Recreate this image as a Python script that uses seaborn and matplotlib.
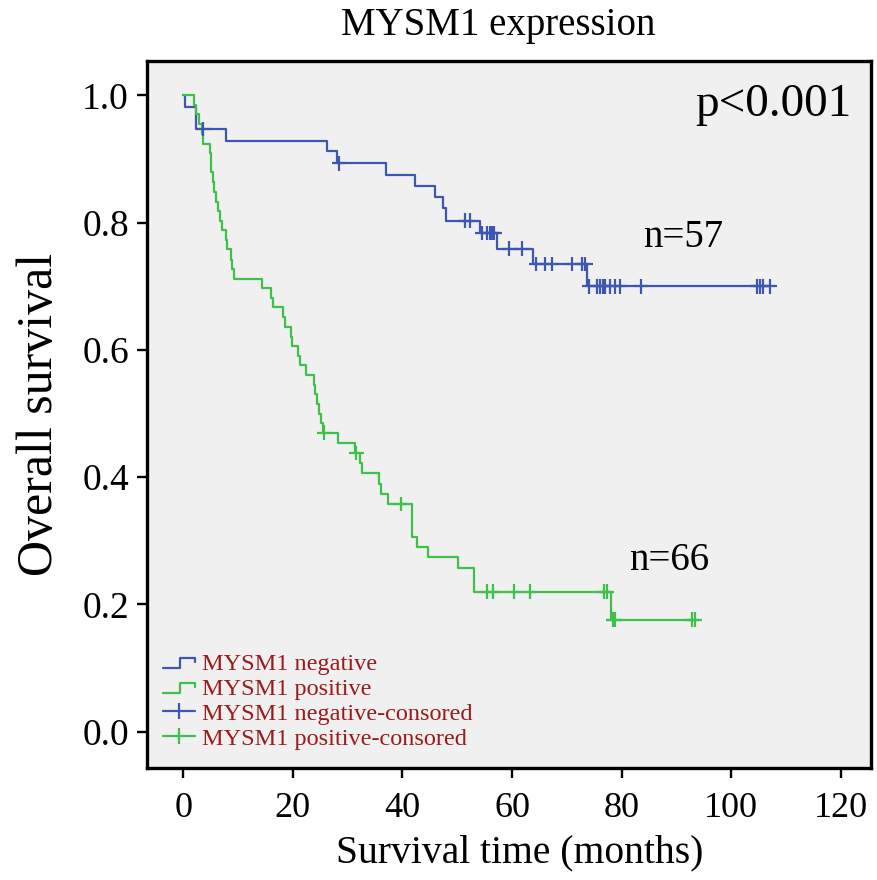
import numpy as np
import pandas as pd
import matplotlib
matplotlib.use("Agg")
import matplotlib.pyplot as plt
import seaborn as sns
from matplotlib.legend_handler import HandlerBase
from matplotlib.lines import Line2D

# ---------------- data ----------------
neg_times = [0, 0.4, 2.4, 7.8, 26.3, 28.1, 37.0, 42.3, 46.0, 47.4, 47.9,
             54.2, 57.2, 63.8, 73.7, 107.1]
neg_surv = [1.0, 0.982, 0.947, 0.929, 0.912, 0.893, 0.875, 0.857, 0.840,
            0.823, 0.803, 0.784, 0.759, 0.735, 0.700, 0.700]
neg_censor = [3.7, 28.4, 51.5, 52.4, 54.6, 55.5, 56.0, 56.4, 56.8, 59.5, 61.9,
              64.4, 66.1, 67.3, 70.9, 72.8, 73.4, 74.1, 75.5, 76.1, 76.6, 77.0,
              77.9, 78.8, 79.7, 83.5, 104.7, 105.3, 105.8, 107.1]

pos_times = [0, 1.9, 2.4, 2.8, 3.5, 3.7, 4.9, 5.0, 5.05, 5.4, 5.7, 6.0, 6.4,
             6.8, 7.1, 7.8, 8.0, 8.7, 8.9, 9.3, 14.4, 16.0, 16.4, 18.2, 18.6,
             19.7, 19.8, 20.9, 21.4, 22.4, 23.9, 24.1, 24.5, 24.8, 25.1, 25.5,
             28.3, 31.3, 32.3, 32.6, 35.8, 36.1, 37.4, 41.7, 42.6, 44.6, 50.2,
             53.0, 78.0, 93.4]
pos_surv = [1.0, 0.985, 0.970, 0.955, 0.939, 0.924, 0.909, 0.894, 0.879,
            0.864, 0.848, 0.833, 0.818, 0.803, 0.788, 0.773, 0.758, 0.742,
            0.727, 0.712, 0.697, 0.682, 0.667, 0.652, 0.636, 0.621, 0.606,
            0.591, 0.576, 0.561, 0.545, 0.530, 0.515, 0.500, 0.485, 0.470,
            0.454, 0.438, 0.422, 0.406, 0.390, 0.373, 0.358, 0.306, 0.291,
            0.274, 0.257, 0.220, 0.176, 0.176]
pos_censor = [25.7, 31.6, 39.7, 55.4, 56.6, 60.3, 63.3, 76.7, 77.3, 78.5,
              78.7, 92.8, 93.4]

group_labels = ["MYSM1 negative", "MYSM1 positive"]
censor_labels = ["MYSM1 negative-consored", "MYSM1 positive-consored"]
n_labels = ["n=57", "n=66"]
p_label = "p<0.001"
x_ticks = [0, 20, 40, 60, 80, 100, 120]
y_ticks = [0.0, 0.2, 0.4, 0.6, 0.8, 1.0]

# ---------------- style ----------------
sns.set_theme(style="ticks")
plt.rcParams["font.family"] = ["Liberation Serif", "DejaVu Serif"]
plt.rcParams["text.color"] = "black"
plt.rcParams["axes.labelcolor"] = "black"

BLUE = "#3D57B0"
GREEN = "#3EC04A"
LEG_TEXT = "#9B1B1B"
LW = 1.6

fig = plt.figure(figsize=(8.77, 8.80), dpi=100)
ax = fig.add_axes([147 / 877, 1 - 768 / 880, 724 / 877, 707 / 880])
ax.set_facecolor("#F0F0F0")


def censor_y(times, surv, cens):
    idx = np.searchsorted(np.asarray(times), np.asarray(cens), side="right") - 1
    return np.asarray(surv)[idx]


curves = pd.concat([
    pd.DataFrame({"t": neg_times, "s": neg_surv, "g": group_labels[0]}),
    pd.DataFrame({"t": pos_times, "s": pos_surv, "g": group_labels[1]}),
])
sns.lineplot(data=curves, x="t", y="s", hue="g",
             palette={group_labels[0]: BLUE, group_labels[1]: GREEN},
             estimator=None, sort=False, drawstyle="steps-post",
             linewidth=LW, legend=False, ax=ax)

cens = pd.concat([
    pd.DataFrame({"t": neg_censor,
                  "s": censor_y(neg_times, neg_surv, neg_censor),
                  "g": censor_labels[0]}),
    pd.DataFrame({"t": pos_censor,
                  "s": censor_y(pos_times, pos_surv, pos_censor),
                  "g": censor_labels[1]}),
])
sns.scatterplot(data=cens, x="t", y="s", hue="g",
                palette={censor_labels[0]: BLUE, censor_labels[1]: GREEN},
                marker="+", s=110, linewidth=1.6, legend=False, ax=ax, zorder=3)

# ---------------- axes ----------------
ax.set_xlim(-6.6, 125.5)
ax.set_ylim(-0.057, 1.054)
ax.set_xticks(x_ticks)
ax.set_xticklabels([str(v) for v in x_ticks])
ax.set_yticks(y_ticks)
ax.set_yticklabels([f"{v:.1f}" for v in y_ticks])
for sp in ax.spines.values():
    sp.set_linewidth(2.4)
    sp.set_color("black")
ax.tick_params(axis="both", direction="out", length=7, width=1.7,
               colors="black")
ax.tick_params(axis="x", pad=10, labelsize=26)
ax.tick_params(axis="y", pad=6, labelsize=27)
ax.set_xlabel("Survival time (months)", fontsize=28.5, va="top")
ax.xaxis.set_label_coords(0.515, -0.0934)
ax.set_ylabel("Overall survival", fontsize=36, labelpad=14)
ax.set_title("MYSM1 expression", fontsize=28, pad=19, x=0.485)

ax.text(0.865, 0.938, p_label, transform=ax.transAxes, fontsize=34,
        ha="center", va="center")
ax.text(0.740, 0.750, n_labels[0], transform=ax.transAxes, fontsize=28,
        ha="center", va="center")
ax.text(0.721, 0.294, n_labels[1], transform=ax.transAxes, fontsize=28,
        ha="center", va="center")


# ---------------- legend ----------------
class StepHandler(HandlerBase):
    def create_artists(self, legend, orig_handle, xdescent, ydescent,
                       width, height, fontsize, trans):
        x0, y0 = -xdescent, -ydescent
        xs = [x0, x0 + 0.55 * width, x0 + 0.55 * width, x0 + width, x0 + width]
        ys = [y0 + 0.1 * height, y0 + 0.1 * height, y0 + 0.7 * height,
              y0 + 0.7 * height, y0 + 0.45 * height]
        ln = Line2D(xs, ys, color=orig_handle.get_color(),
                    lw=orig_handle.get_linewidth(), transform=trans)
        return [ln]


h_neg = Line2D([], [], color=BLUE, lw=LW)
h_pos = Line2D([], [], color=GREEN, lw=LW)
h_cn = Line2D([], [], color=BLUE, lw=LW, marker="|", markersize=12,
              markeredgewidth=LW)
h_cp = Line2D([], [], color=GREEN, lw=LW, marker="|", markersize=12,
              markeredgewidth=LW)
leg = ax.legend([h_neg, h_pos, h_cn, h_cp], group_labels + censor_labels,
                handler_map={h_neg: StepHandler(), h_pos: StepHandler()},
                loc="lower left", bbox_to_anchor=(0.022, 0.026),
                frameon=False, fontsize=17.5, labelspacing=0.12,
                handlelength=1.3, handletextpad=0.3, borderpad=0,
                borderaxespad=0)
for t in leg.get_texts():
    t.set_color(LEG_TEXT)

fig.savefig("out.png", dpi=100, facecolor="white")
